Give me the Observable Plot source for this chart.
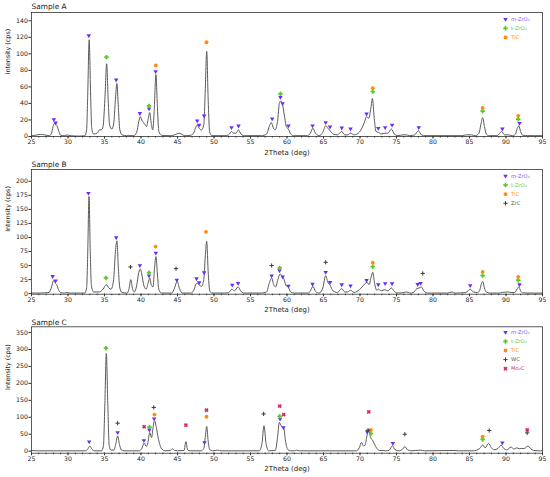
<!DOCTYPE html>
<html><head><meta charset="utf-8">
<script src="https://cdn.jsdelivr.net/npm/d3@7"></script>
<script src="https://cdn.jsdelivr.net/npm/@observablehq/plot@0.6"></script>
<style>
body{margin:0;background:#fff}
#c{width:550px}
#c svg{display:block}
</style>
</head><body><div id="c"></div>
<script>
// ---------- DATA ----------
const xTicks = [25,30,35,40,45,50,55,60,65,70,75,80,85,90,95];
const yTicksA = [0,20,40,60,80,100,120,140];
const yTicksB = [0,25,50,75,100,125,150,175,200];
const yTicksC = [0,50,100,150,200,250,300,350];

const profileA = [[25,1],[25.5,1.5],[26.2,2.5],[26.8,2],[27.4,1],[27.7,3],[27.95,12],[28.15,16],[28.35,14],[28.5,13],[28.75,6],[29.0,1.5],[29.5,1],[29.9,1.8],[30.3,1],[31.5,0.5],[32.3,1],[32.55,8],[32.7,50],[32.9,117],[33.1,50],[33.25,10],[33.5,3],[34.0,4],[34.3,8],[34.55,8],[34.8,12],[35.05,45],[35.3,88],[35.5,45],[35.7,14],[36.0,9],[36.25,15],[36.5,45],[36.7,64],[36.9,35],[37.1,8],[37.4,2],[38.0,1],[39.0,1],[39.4,5],[39.7,18],[39.9,24],[40.1,20],[40.5,15],[40.75,12],[41.0,22],[41.2,29],[41.4,16],[41.6,8],[41.8,30],[42.05,75],[42.25,35],[42.45,6],[42.8,1.5],[44.0,1],[44.9,3],[45.2,4],[45.5,3],[46.0,1],[46.8,1.5],[47.2,4],[47.5,11],[47.7,14],[47.95,10],[48.3,8],[48.6,14],[48.8,55],[49.0,103],[49.2,45],[49.4,6],[49.7,1],[51.5,1],[52.0,2],[52.4,6],[52.7,4],[53.0,4],[53.35,8],[53.7,3],[54.2,1],[56.5,1],[57.2,3],[57.6,13],[57.85,17],[58.1,11],[58.35,8],[58.7,18],[58.95,40],[59.15,43],[59.4,38],[59.65,25],[59.9,12],[60.2,9],[60.5,3],[61.0,1],[62.8,1],[63.2,4],[63.55,10],[63.9,4],[64.4,1],[64.9,5],[65.3,13],[65.6,10],[65.9,7],[66.3,3],[66.9,2],[67.5,6],[67.9,2],[68.3,2],[68.7,4],[69.2,2],[69.6,3],[70.2,9],[70.6,17],[70.9,24],[71.2,22],[71.5,35],[71.7,46],[71.95,22],[72.2,6],[72.5,5],[72.9,3],[73.4,4],[73.8,4],[74.3,9],[74.7,3],[75.2,1],[75.9,2],[76.3,2],[76.8,1],[77.5,2],[78.0,7],[78.4,2],[79.0,1],[84.0,1],[84.5,2],[85.3,2],[85.8,1],[86.3,4],[86.55,14],[86.8,23],[87.05,12],[87.3,3],[87.7,1],[88.8,1],[89.4,6],[89.8,2],[90.3,2],[90.9,1],[91.3,3],[91.55,10],[91.75,13],[92.0,6],[92.3,1.5],[93.0,1],[95.0,1]];

const profileB = [[25,1],[26,1],[27.4,2],[27.75,12],[28.0,23],[28.25,19],[28.45,16],[28.7,7],[29.0,2],[29.5,1],[29.9,2],[30.3,1],[32.3,1],[32.55,10],[32.7,70],[32.88,173],[33.05,75],[33.2,15],[33.5,3],[34.3,3],[34.8,8],[35.25,16],[35.6,10],[35.9,8],[36.25,25],[36.5,75],[36.7,94],[36.9,45],[37.1,10],[37.4,2],[38.1,1],[38.35,8],[38.6,25],[38.85,8],[39.1,3],[39.4,14],[39.7,38],[39.9,44],[40.1,35],[40.4,14],[40.7,8],[41.0,20],[41.2,28],[41.4,16],[41.65,12],[41.85,45],[42.05,66],[42.25,35],[42.45,7],[42.8,1],[44.2,1],[44.6,10],[44.95,22],[45.3,8],[45.7,1],[46.8,1],[47.2,5],[47.5,16],[47.7,19],[48.0,15],[48.3,13],[48.6,25],[48.8,65],[49.0,93],[49.2,40],[49.4,6],[49.7,1],[51.5,1],[52.0,2],[52.45,8],[52.8,5],[53.3,12],[53.7,4],[54.2,1],[56.5,1],[57.2,3],[57.6,20],[57.9,28],[58.2,15],[58.45,12],[58.75,25],[59.05,35],[59.3,32],[59.55,27],[59.85,15],[60.2,11],[60.5,3],[61.0,1],[62.9,1],[63.2,5],[63.55,13],[63.9,4],[64.4,1],[64.9,10],[65.3,32],[65.6,20],[65.9,15],[66.3,5],[66.9,2],[67.5,9],[67.9,3],[68.3,3],[68.7,6],[69.2,2],[69.6,4],[70.3,12],[70.7,18],[70.95,20],[71.25,16],[71.5,28],[71.75,38],[72.0,18],[72.3,6],[72.5,8],[72.9,5],[73.4,7],[73.8,5],[74.3,10],[74.7,4],[75.2,1],[76.0,2],[76.4,3],[76.8,1],[77.3,2],[77.8,9],[78.1,10],[78.4,12],[78.8,4],[79.3,1],[82.0,1],[82.6,3],[83.0,1],[84.5,2],[85.1,8],[85.5,3],[86.1,2],[86.4,6],[86.6,16],[86.8,22],[87.05,10],[87.3,3],[87.8,1],[89.0,1],[89.5,2],[90.2,3],[90.7,2],[91.2,2],[91.5,8],[91.75,12],[92.0,5],[92.3,1.5],[93.0,1],[95.0,1]];

const profileC = [[25,2],[26,1],[28,1],[30,1],[32.4,1],[32.7,6],[33.0,15],[33.3,5],[33.6,1],[34.6,1],[34.85,15],[35.05,140],[35.25,288],[35.45,140],[35.65,15],[35.9,3],[36.3,3],[36.55,22],[36.8,45],[37.05,20],[37.3,4],[37.7,1],[39.8,1],[40.1,8],[40.45,24],[40.7,14],[40.95,25],[41.2,55],[41.45,40],[41.65,70],[41.85,90],[42.1,70],[42.35,40],[42.6,18],[42.9,5],[43.3,1],[44.0,2],[44.3,7],[44.6,2],[45.0,1],[45.9,2],[46.15,28],[46.4,3],[46.8,1],[48.2,1],[48.6,8],[48.8,40],[49.0,73],[49.2,30],[49.4,5],[49.8,1],[50.5,3],[51.0,1],[56.2,1],[56.55,20],[56.85,75],[57.15,20],[57.5,1],[58.4,2],[58.7,40],[58.95,85],[59.2,75],[59.55,70],[59.8,30],[60.1,5],[60.5,1],[61.0,1],[61.3,3],[61.7,1],[69.5,1],[69.9,10],[70.2,26],[70.5,15],[70.7,18],[70.95,45],[71.2,65],[71.45,40],[71.7,33],[72.0,20],[72.3,8],[72.7,2],[73.0,2],[73.5,1],[74.0,3],[74.45,16],[74.8,4],[75.4,1],[75.8,5],[76.15,13],[76.5,4],[77.0,1],[78.3,3],[78.8,1],[83.0,2],[83.5,1],[85.5,1],[86.4,8],[86.8,18],[87.15,10],[87.6,23],[88.0,10],[88.35,4],[88.9,8],[89.35,18],[89.7,8],[90.1,4],[90.7,12],[91.1,6],[91.5,10],[91.8,7],[92.1,8],[92.5,8],[93.0,15],[93.4,7],[93.8,2],[94.5,1],[95,1]];

// phase markers [2theta, marker height]
const mZrO2_A = [[28.06,20.5],[28.3,16.5],[32.85,122],[36.6,68.5],[39.85,28],[41.1,33.5],[42.0,78.6],[47.7,19],[47.97,14],[48.65,25],[52.4,10.9],[53.36,12.9],[57.97,21.5],[59.1,47.5],[59.4,40],[60.2,13],[63.5,13],[65.3,17],[65.9,11.7],[67.5,10.5],[68.7,9.3],[70.9,27.4],[72.5,10],[73.45,10.9],[74.4,14],[78.05,10.9],[89.5,9.3],[91.85,16]];
const tZrO2_A = [[35.27,96],[41.1,37],[59.1,51.6],[71.75,54.4],[86.8,30.6],[91.67,21]];
const TiC_A = [[42.03,86],[48.97,114],[71.75,58.4],[86.8,34.5],[91.67,25]];

const mZrO2_B = [[27.9,30.8],[28.3,23],[32.8,178.7],[36.6,99.7],[39.85,50],[41.1,32],[42.03,72.5],[44.9,24.4],[47.6,26.7],[47.97,19.6],[48.65,37.4],[52.5,15.4],[53.3,18.4],[57.9,32],[58.97,41],[59.4,30],[60.2,13.7],[63.5,17],[65.3,38],[65.9,20],[67.5,16],[68.7,14],[70.9,23.7],[72.5,16],[73.45,18],[74.4,18],[77.9,16.6],[78.3,18.4],[85.1,14.5],[91.85,16]];
const tZrO2_B = [[35.2,28],[41.1,37.4],[59.0,45.7],[71.75,48],[86.8,32.2],[91.67,24]];
const TiC_B = [[42.0,83.7],[48.9,110],[71.75,55],[86.8,38.7],[91.67,30]];
const ZrC_B = [[38.56,47.5],[44.8,44.5],[57.9,50],[65.3,55.8],[78.6,36]];

const mZrO2_C = [[32.9,27.7],[36.8,55],[40.4,31.5],[41.16,63],[41.8,95.6],[48.7,25.7],[59.05,95],[59.5,70],[70.98,57],[74.5,23.6],[89.5,24.8]];
const tZrO2_C = [[35.2,304],[41.16,71],[59.0,103],[71.5,52],[86.8,34.5]];
const TiC_C = [[41.85,108],[48.97,101.5],[71.5,63],[86.8,43]];
const WC_C = [[36.8,82.6],[41.75,129],[56.8,110],[71.1,62],[76.14,50],[87.7,61],[92.9,54]];
const Mo2C_C = [[40.43,72],[46.15,77],[48.97,121],[59.0,133],[59.55,108],[71.2,116],[92.9,63]];

// ---------- SYMBOLS / STYLES ----------
const S3 = Math.sqrt(3);
const triDown = {draw(c, size){ const y = Math.sqrt(size/(S3*3)); c.moveTo(0, 2*y); c.lineTo(S3*y, -y); c.lineTo(-S3*y, -y); c.closePath(); }};
function plusPts(size){ const w = Math.sqrt(size)*0.55, t = w*0.38;
  return [[-t,-w],[t,-w],[t,-t],[w,-t],[w,t],[t,t],[t,w],[-t,w],[-t,t],[-w,t],[-w,-t],[-t,-t]]; }
const filledPlus = {draw(c, size){ const p = plusPts(size); c.moveTo(...p[0]); p.slice(1).forEach(q=>c.lineTo(...q)); c.closePath(); }};
const filledX = {draw(c, size){ const a = Math.SQRT1_2; const p = plusPts(size).map(([x,y])=>[(x-y)*a,(x+y)*a]); c.moveTo(...p[0]); p.slice(1).forEach(q=>c.lineTo(...q)); c.closePath(); }};
const thinPlus = {draw(c, size){ const w = Math.sqrt(size)*0.5; c.moveTo(-w,0); c.lineTo(w,0); c.moveTo(0,-w); c.lineTo(0,w); }};

const styles = {
  "m-ZrO₂": {symbol: triDown, r: 1.65, fill: "#6a2cf6", text: "#8a55ff"},
  "t-ZrO₂": {symbol: filledPlus, r: 2.3, fill: "#55cc22", text: "#66cc33"},
  "TiC":    {symbol: "circle", r: 1.9, fill: "#ff8a10", text: "#ff9526"},
  "ZrC":    {symbol: thinPlus, r: 2.4, stroke: "#3a3a3a", text: "#555"},
  "WC":     {symbol: thinPlus, r: 2.4, stroke: "#3a3a3a", text: "#555"},
  "Mo₂C":   {symbol: filledX, r: 2.2, fill: "#d42a62", text: "#cc3366"}
};

const font = "DejaVu Sans";

function dotMark(data, name, extra = {}) {
  const s = styles[name];
  const o = {symbol: s.symbol, r: s.r, ...extra};
  if (s.stroke) { o.stroke = s.stroke; o.fill = "none"; o.strokeWidth = 1; }
  else { o.fill = s.fill; o.stroke = "none"; }
  return Plot.dot(data, o);
}

function panel({title, profile, phases, yDomain, yTicks, height, mt, mb, legTop}) {
  const marks = [
    Plot.axisX({ticks: d3.range(25, 96, 1), tickSize: 1.5, tickFormat: () => "", label: null, stroke: "#333"}),
    Plot.axisX({ticks: xTicks, tickSize: 2.6, tickPadding: 0.6, fontSize: 6.2, label: null, tickFormat: d => String(d), stroke: "#333"}),
    Plot.axisY({ticks: yTicks, tickSize: 2.6, tickPadding: 1, fontSize: 6.2, label: null, tickFormat: d => String(d), stroke: "#333"}),
    Plot.line(profile, {x: d => d[0], y: d => d[1], stroke: "#5a5a5a", strokeWidth: 1, curve: "monotone-x"}),
    Plot.frame({stroke: "#333", strokeWidth: 0.8})
  ];
  phases.forEach(([name, data]) => marks.push(dotMark(data, name, {x: d => d[0], y: d => d[1]})));
  phases.forEach(([name], i) => {
    marks.push(dotMark([0], name, {frameAnchor: "top-right", dx: -37, dy: legTop + 9.1 * i}));
    marks.push(Plot.text([name], {frameAnchor: "top-right", dx: -31.5, dy: legTop + 9.1 * i, text: d => d, textAnchor: "start", lineAnchor: "middle", fontSize: 5.2, fill: styles[name].text, fontFamily: font}));
  });
  marks.push(Plot.text([title], {frameAnchor: "top-left", dy: 6.3 - mt, text: d => d, textAnchor: "start", lineAnchor: "middle", fontSize: 7.4, fill: "#222", fontFamily: font}));
  marks.push(Plot.text(["2Theta (deg)"], {frameAnchor: "bottom", dy: 15.8, text: d => d, lineAnchor: "middle", fontSize: 7, fill: "#222", fontFamily: font}));
  marks.push(Plot.text(["Intensity (cps)"], {frameAnchor: "left", dx: -24, rotate: -90, text: d => d, lineAnchor: "middle", fontSize: 6.4, fill: "#222", fontFamily: font}));
  return Plot.plot({
    width: 550, height, marginTop: mt, marginBottom: mb, marginLeft: 31, marginRight: 8,
    x: {domain: [25, 95]}, y: {domain: yDomain},
    style: {fontFamily: font, fontSize: "6.2px", color: "#222", background: "white", overflow: "visible"},
    marks
  });
}

const c = document.getElementById("c");
c.append(panel({title: "Sample A", profile: profileA, yDomain: [0, 150], yTicks: yTicksA, height: 158, mt: 12, mb: 22, legTop: 6.7,
  phases: [["m-ZrO₂", mZrO2_A], ["t-ZrO₂", tZrO2_A], ["TiC", TiC_A]]}));
c.append(panel({title: "Sample B", profile: profileB, yDomain: [-1, 221], yTicks: yTicksB, height: 158, mt: 11, mb: 22.3, legTop: 6.5,
  phases: [["m-ZrO₂", mZrO2_B], ["t-ZrO₂", tZrO2_B], ["TiC", TiC_B], ["ZrC", ZrC_B]]}));
c.append(panel({title: "Sample C", profile: profileC, yDomain: [-6, 367], yTicks: yTicksC, height: 161, mt: 10.3, mb: 24.3, legTop: 5.5,
  phases: [["m-ZrO₂", mZrO2_C], ["t-ZrO₂", tZrO2_C], ["TiC", TiC_C], ["WC", WC_C], ["Mo₂C", Mo2C_C]]}));
</script>
</body></html>
